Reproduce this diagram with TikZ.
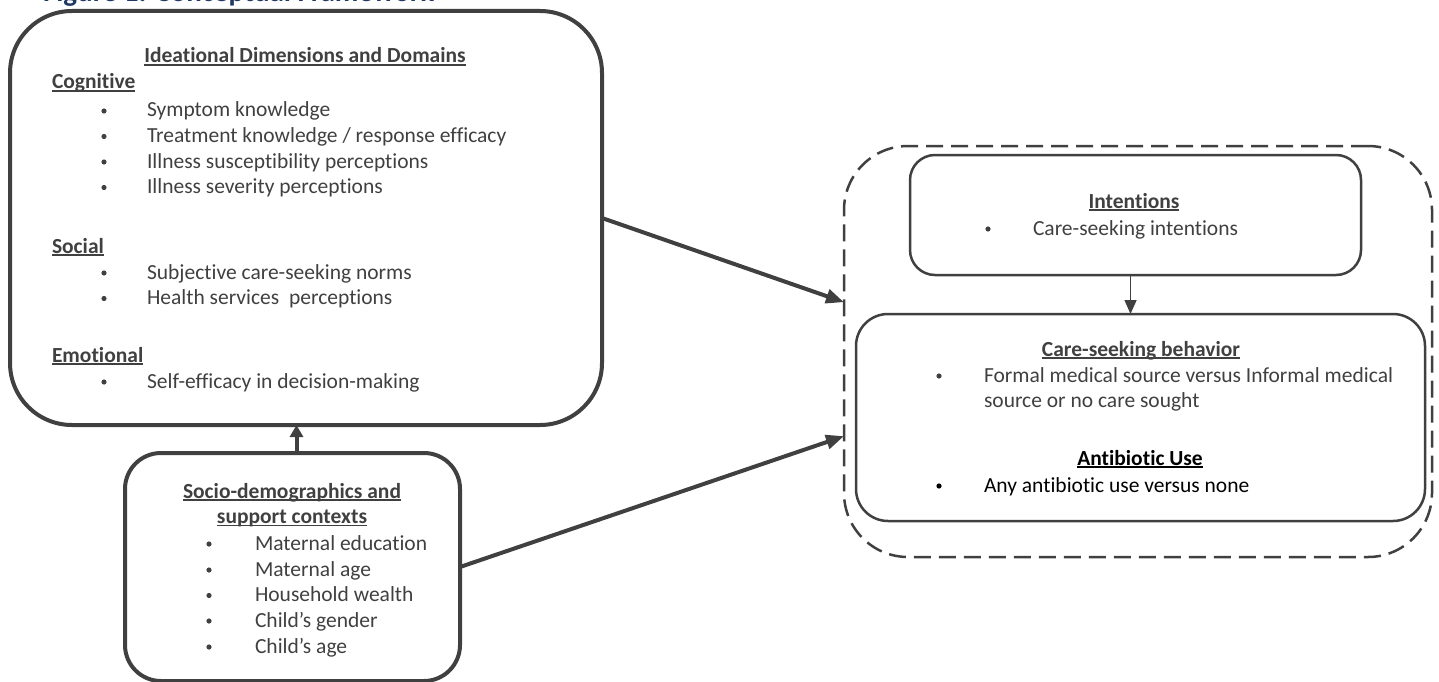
\documentclass[tikz,border=0pt]{standalone}
\usepackage{fontspec}
\setmainfont{Carlito}[RawFeature={-liga,-clig,-calt,-dlig}]
\usetikzlibrary{arrows.meta,fit,calc}
\definecolor{ink}{HTML}{404040}
\definecolor{navy}{HTML}{1F3864}
\newsavebox\ulbox
\newcommand\hd[1]{\sbox\ulbox{#1}\rlap{\rule[-0.13em]{\wd\ulbox}{0.08em}}\usebox\ulbox}
\begin{document}
\begin{tikzpicture}[x=1pt,y=-1pt,
  every node/.style={inner sep=0pt, outer sep=0pt, text=ink, font=\fontsize{21.5pt}{26pt}\selectfont},
  heavybox/.style={draw=ink, line width=4pt, inner sep=0pt},
  lightbox/.style={draw=ink, line width=2.5pt, inner sep=0pt},
  dashbox/.style={draw=ink, line width=2.5pt, inner sep=0pt, dash pattern=on 17pt off 8pt},
  heading/.style={anchor=base, font=\fontsize{21.5pt}{26pt}\selectfont\bfseries},
  subhead/.style={anchor=base west, font=\fontsize{21.5pt}{26pt}\selectfont\bfseries},
  item/.style={anchor=base west},
  bul/.style={circle, fill=ink, minimum size=5.2pt, inner sep=0pt, yshift=6pt},
  bigarrow/.style={draw=ink, line width=4pt, -{Triangle[length=18pt,width=14pt]}},
  uparrow/.style={draw=ink, line width=4pt, -{Triangle[length=12pt,width=13pt]}},
  smallarrow/.style={draw=ink, line width=1.5pt, -{Triangle[length=14pt,width=12pt]}}
]
\useasboundingbox (0,0) rectangle (1439,682);
\clip (0,0) rectangle (1439,682);

% title (cut off at the top in the reference)
\node[anchor=base west, text=navy, font=\fontsize{29pt}{35pt}\selectfont\bfseries] (title) at (43,1.5) {Figure 1: Conceptual Framework};

% boxes
\node[heavybox, rounded corners=62pt, fit={(10,11) (602,425)}] (ideas) {};
\node[heavybox, rounded corners=36pt, fit={(125,453) (460,681)}] (socio) {};
\node[dashbox, rounded corners=64pt, fit={(844,146) (1432,557)}] (outer) {};
\node[lightbox, rounded corners=25pt, fit={(910,155) (1361,275)}] (intent) {};
\node[lightbox, rounded corners=32pt, fit={(856,314) (1425,521)}] (care) {};

% ideational text
\node[heading] (h1) at (305,63) {\hd{Ideational Dimensions and Domains}};
\node[subhead] (cog) at (52,89) {\hd{Cognitive}};
\node[bul] (b1) at (104,117) {};
\node[item] (t1) at (147,117) {Symptom knowledge};
\node[bul] (b2) at (104,142.5) {};
\node[item] (t2) at (147,142.5) {Treatment knowledge / response efficacy};
\node[bul] (b3) at (104,168) {};
\node[item] (t3) at (147,168) {Illness susceptibility perceptions};
\node[bul] (b4) at (104,193.5) {};
\node[item] (t4) at (147,193.5) {Illness severity perceptions};
\node[subhead] (soc) at (52,253) {\hd{Social}};
\node[bul] (b5) at (104,279) {};
\node[item] (t5) at (147,279) {Subjective care-seeking norms};
\node[bul] (b6) at (104,304.5) {};
\node[item] (t6) at (147,304.5) {Health services\ \ perceptions};
\node[subhead] (emo) at (52,362) {\hd{Emotional}};
\node[bul] (b7) at (104,388) {};
\node[item] (t7) at (147,388) {Self-efficacy in decision-making};

% socio text
\node[heading] (h2) at (292,498) {\hd{Socio-demographics and}};
\node[heading] (h2b) at (292,523.5) {\hd{support contexts}};
\node[bul] (s1) at (209,550) {};
\node[item] (u1) at (255,550) {Maternal education};
\node[bul] (s2) at (209,576) {};
\node[item] (u2) at (255,576) {Maternal age};
\node[bul] (s3) at (209,601.5) {};
\node[item] (u3) at (255,601.5) {Household wealth};
\node[bul] (s4) at (209,627) {};
\node[item] (u4) at (255,627) {Child’s gender};
\node[bul] (s5) at (209,653) {};
\node[item] (u5) at (255,653) {Child’s age};

% intentions text
\node[heading] (h3) at (1134,208) {\hd{Intentions}};
\node[bul] (i1) at (988,235) {};
\node[item] (v1) at (1033,235) {Care-seeking intentions};

% care-seeking text
\node[heading] (h4) at (1141,356) {\hd{Care-seeking behavior}};
\node[bul] (c1) at (939,382) {};
\node[item] (w1) at (984,382) {Formal medical source versus Informal medical};
\node[item] (w2) at (984,407.5) {source or no care sought};
\node[heading, text=black] (h5) at (1140,465) {\hd{Antibiotic Use}};
\node[bul, fill=black] (c2) at (939,492) {};
\node[item, text=black] (w3) at (984,492) {Any antibiotic use versus none};

% connectors
\coordinate (in1) at ($(outer.north west)!0.38!(outer.south west)$);
\coordinate (in2) at ($(outer.north west)!0.706!(outer.south west)$);
\draw[bigarrow] (ideas.east) -- (in1);
\draw[bigarrow] (socio.east) -- (in2);
\draw[uparrow] ($(socio.north)+(4,0)$) -- ($(ideas.south -| socio.north)+(4,0)$);
\draw[smallarrow] ($(intent.south)+(-5,0)$) -- ($(care.north -| intent.south)+(-5,0)$);
\end{tikzpicture}
\end{document}
